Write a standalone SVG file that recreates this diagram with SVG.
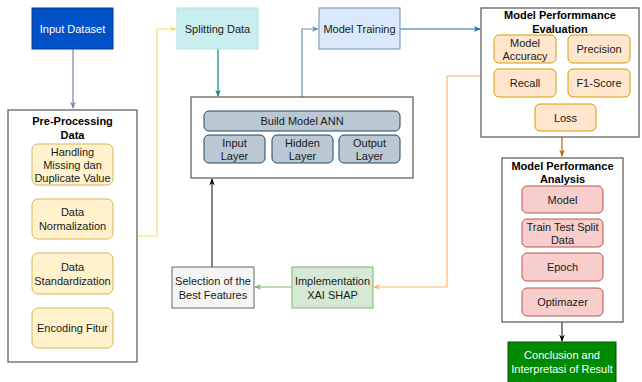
<svg xmlns="http://www.w3.org/2000/svg" width="642" height="382" viewBox="0 0 642 382">
<defs>
<style>
text{font-family:"Liberation Sans",Arial,sans-serif;font-size:11px;fill:#1a1a1a;text-anchor:middle;dominant-baseline:central}
.b{font-weight:bold;fill:#000}
.w{fill:#fff}
.cont{fill:#fff;stroke:#555;stroke-width:1.2}
.yel{fill:#fff2cc;stroke:#d6b656;stroke-width:1}
.ora{fill:#ffe6cc;stroke:#d79b00;stroke-width:1}
.red{fill:#f8cecc;stroke:#b85450;stroke-width:1}
.ann{fill:#bac8d3;stroke:#23445d;stroke-width:1}
.c{fill:none;stroke-width:1.2}
</style>
<marker id="mk" viewBox="0 0 10 10" refX="9" refY="5" markerWidth="7" markerHeight="7" orient="auto" markerUnits="userSpaceOnUse"><path d="M0,1 L10,5 L0,9 L3,5 z" fill="context-stroke"/></marker>
<marker id="mBlack" viewBox="0 0 10 10" refX="9" refY="5" markerWidth="7" markerHeight="7" orient="auto" markerUnits="userSpaceOnUse"><path d="M0,1 L10,5 L0,9 L3,5 z" fill="#000"/></marker>
<marker id="mPur" viewBox="0 0 10 10" refX="9" refY="5" markerWidth="7" markerHeight="7" orient="auto" markerUnits="userSpaceOnUse"><path d="M0,1 L10,5 L0,9 L3,5 z" fill="#9673a6"/></marker>
<marker id="mYel" viewBox="0 0 10 10" refX="9" refY="5" markerWidth="7" markerHeight="7" orient="auto" markerUnits="userSpaceOnUse"><path d="M0,1 L10,5 L0,9 L3,5 z" fill="#ffd966"/></marker>
<marker id="mTeal" viewBox="0 0 10 10" refX="9" refY="5" markerWidth="7" markerHeight="7" orient="auto" markerUnits="userSpaceOnUse"><path d="M0,1 L10,5 L0,9 L3,5 z" fill="#0e8088"/></marker>
<marker id="mBG" viewBox="0 0 10 10" refX="9" refY="5" markerWidth="7" markerHeight="7" orient="auto" markerUnits="userSpaceOnUse"><path d="M0,1 L10,5 L0,9 L3,5 z" fill="#6c8ebf"/></marker>
<marker id="mBlue" viewBox="0 0 10 10" refX="9" refY="5" markerWidth="7" markerHeight="7" orient="auto" markerUnits="userSpaceOnUse"><path d="M0,1 L10,5 L0,9 L3,5 z" fill="#10739e"/></marker>
<marker id="mOra" viewBox="0 0 10 10" refX="9" refY="5" markerWidth="7" markerHeight="7" orient="auto" markerUnits="userSpaceOnUse"><path d="M0,1 L10,5 L0,9 L3,5 z" fill="#ffb570"/></marker>
<marker id="mGrn" viewBox="0 0 10 10" refX="9" refY="5" markerWidth="7" markerHeight="7" orient="auto" markerUnits="userSpaceOnUse"><path d="M0,1 L10,5 L0,9 L3,5 z" fill="#82b366"/></marker>
<marker id="mBrn" viewBox="0 0 10 10" refX="9" refY="5" markerWidth="7" markerHeight="7" orient="auto" markerUnits="userSpaceOnUse"><path d="M0,1 L10,5 L0,9 L3,5 z" fill="#b46504"/></marker>
</defs>
<rect width="642" height="382" fill="#fff"/>

<g id="connectors">
<path class="c" d="M73,49 V108" stroke="#9673a6" marker-end="url(#mPur)"/>
<path class="c" d="M73,185 V198" stroke="#000" marker-end="url(#mBlack)"/>
<path class="c" d="M73,239 V252" stroke="#000" marker-end="url(#mBlack)"/>
<path class="c" d="M73,294 V307" stroke="#000" marker-end="url(#mBlack)"/>
<path class="c" d="M137,236 H157 V29 H176" stroke="#ffd966" marker-end="url(#mYel)"/>
<path class="c" d="M218,49 V96" stroke="#0e8088" marker-end="url(#mTeal)"/>
<path class="c" d="M302,97 V29 H318" stroke="#6c8ebf" marker-end="url(#mBG)"/>
<path class="c" d="M400,29 H480" stroke="#10739e" marker-end="url(#mBlue)"/>
<path class="c" d="M481,76 H447 V287 H374" stroke="#ffb570" marker-end="url(#mOra)"/>
<path class="c" d="M292,287 H255" stroke="#82b366" marker-end="url(#mGrn)"/>
<path class="c" d="M212,267 V179" stroke="#333" marker-end="url(#mBlack)"/>
<path class="c" d="M562,137 V156" stroke="#b46504" marker-end="url(#mBrn)"/>
<path class="c" d="M562,322 V341" stroke="#333" marker-end="url(#mBlack)"/>
</g>

<g id="input-dataset">
<rect x="32" y="8" width="81" height="41" fill="#0050c8" stroke="#0a3d91"/>
<text x="72.5" y="28.5" class="w">Input Dataset</text>
</g>

<g id="pre-processing">
<rect class="cont" x="8" y="110" width="129" height="252"/>
<text x="72.5" y="121" class="b">Pre-Processing</text>
<text x="72.5" y="135" class="b">Data</text>
</g>
<g id="handling">
<rect class="yel" x="32" y="144" width="81" height="41" rx="6"/>
<text x="72.5" y="151.5">Handling</text>
<text x="72.5" y="164.5">Missing dan</text>
<text x="72.5" y="177.5">Duplicate Value</text>
</g>
<g id="normalization">
<rect class="yel" x="32" y="199" width="81" height="40" rx="6"/>
<text x="72.5" y="212">Data</text>
<text x="72.5" y="226">Normalization</text>
</g>
<g id="standardization">
<rect class="yel" x="32" y="253" width="81" height="41" rx="6"/>
<text x="72.5" y="267">Data</text>
<text x="72.5" y="281">Standardization</text>
</g>
<g id="encoding">
<rect class="yel" x="32" y="308" width="81" height="40" rx="6"/>
<text x="72.5" y="328">Encoding Fitur</text>
</g>

<g id="splitting">
<rect x="177" y="8" width="81" height="41" fill="#c9eef0" stroke="#b0e3e6"/>
<text x="217.5" y="28.5">Splitting Data</text>
</g>

<g id="build-model">
<rect class="cont" x="191" y="97" width="222" height="81"/>
<rect class="ann" x="204" y="111" width="196" height="20" rx="5"/>
<text x="302" y="121">Build Model ANN</text>
</g>
<g id="input-layer">
<rect class="ann" x="204" y="135" width="61" height="28" rx="5"/>
<text x="234.5" y="142.5">Input</text>
<text x="234.5" y="155.5">Layer</text>
</g>
<g id="hidden-layer">
<rect class="ann" x="272" y="135" width="61" height="28" rx="5"/>
<text x="302.5" y="142.5">Hidden</text>
<text x="302.5" y="155.5">Layer</text>
</g>
<g id="output-layer">
<rect class="ann" x="339" y="135" width="61" height="28" rx="5"/>
<text x="369.5" y="142.5">Output</text>
<text x="369.5" y="155.5">Layer</text>
</g>

<g id="model-training">
<rect x="319" y="8" width="81" height="41" fill="#dae8fc" stroke="#6c8ebf"/>
<text x="359.5" y="28.5">Model Training</text>
</g>

<g id="evaluation">
<rect class="cont" x="481" y="8" width="158" height="129"/>
<text x="560" y="15" class="b">Model Performmance</text>
<text x="560" y="28.5" class="b">Evaluation</text>
</g>
<g id="accuracy">
<rect class="ora" x="494" y="35" width="62" height="28" rx="5"/>
<text x="525" y="43">Model</text>
<text x="525" y="56">Accuracy</text>
</g>
<g id="precision">
<rect class="ora" x="568" y="35" width="62" height="28" rx="5"/>
<text x="599" y="49">Precision</text>
</g>
<g id="recall">
<rect class="ora" x="494" y="69" width="62" height="28" rx="5"/>
<text x="525" y="83">Recall</text>
</g>
<g id="f1">
<rect class="ora" x="568" y="69" width="62" height="28" rx="5"/>
<text x="599" y="83">F1-Score</text>
</g>
<g id="loss">
<rect class="ora" x="535" y="104" width="61" height="27" rx="5"/>
<text x="565.5" y="117.5">Loss</text>
</g>

<g id="xai-shap">
<rect x="292" y="267" width="81" height="41" fill="#d5e8d4" stroke="#82b366"/>
<text x="332.5" y="280.5">Implementation</text>
<text x="332.5" y="294.5">XAI SHAP</text>
</g>
<g id="selection">
<rect x="172" y="267" width="82" height="41" fill="#f5f5f5" stroke="#666"/>
<text x="213" y="280.5">Selection of the</text>
<text x="213" y="294.5">Best Features</text>
</g>

<g id="analysis">
<rect class="cont" x="502" y="158" width="121" height="164"/>
<text x="562.5" y="166" class="b">Model Performance</text>
<text x="562.5" y="179" class="b">Analysis</text>
</g>
<g id="model">
<rect class="red" x="522" y="186" width="81" height="27" rx="5"/>
<text x="562.5" y="199.5">Model</text>
</g>
<g id="train-test">
<rect class="red" x="522" y="219" width="81" height="28" rx="5"/>
<text x="562.5" y="227">Train Test Split</text>
<text x="562.5" y="240">Data</text>
</g>
<g id="epoch">
<rect class="red" x="522" y="253" width="81" height="28" rx="5"/>
<text x="562.5" y="267">Epoch</text>
</g>
<g id="optimazer">
<rect class="red" x="522" y="288" width="81" height="28" rx="5"/>
<text x="562.5" y="302">Optimazer</text>
</g>

<g id="conclusion">
<rect x="508" y="342" width="108" height="41" fill="#008a00" stroke="#005700"/>
<text x="562" y="355" class="w">Conclusion and</text>
<text x="562" y="369" class="w">Interpretasi of Result</text>
</g>
</svg>
